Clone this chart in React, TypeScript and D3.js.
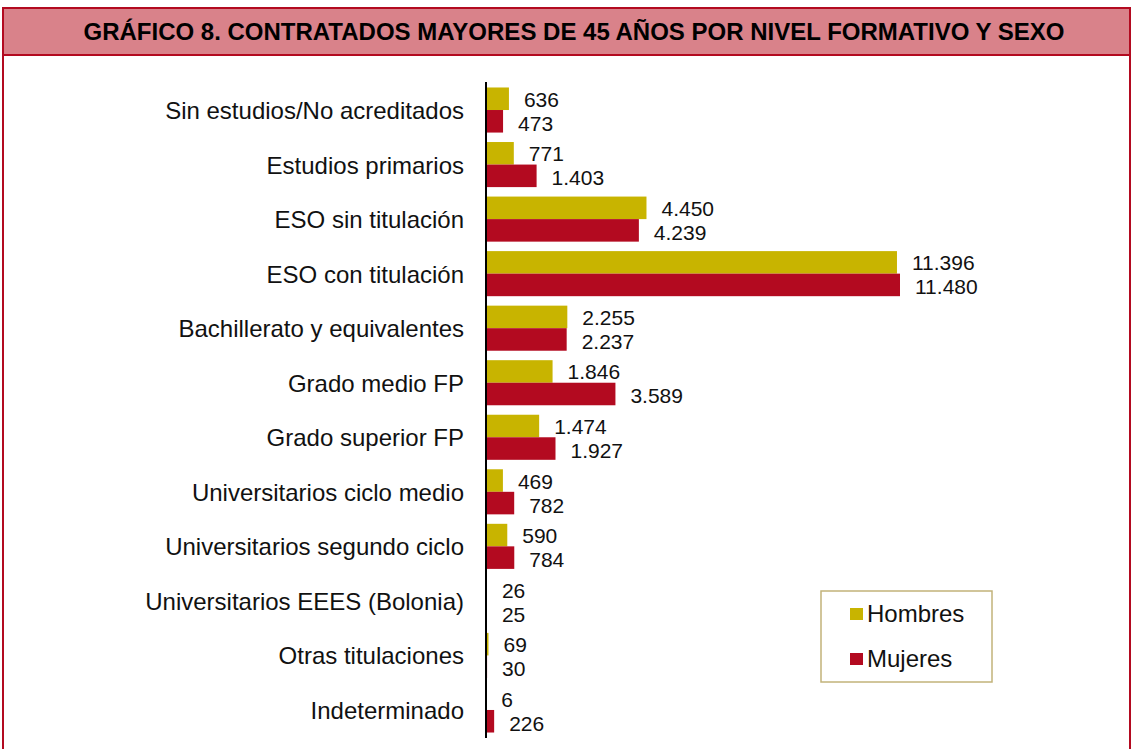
import React, { useEffect, useRef } from 'react'
import * as d3 from 'd3'

const categories = [
  'Sin estudios/No acreditados',
  'Estudios primarios',
  'ESO sin titulación',
  'ESO con titulación',
  'Bachillerato y equivalentes',
  'Grado medio FP',
  'Grado superior FP',
  'Universitarios ciclo medio',
  'Universitarios segundo ciclo',
  'Universitarios EEES (Bolonia)',
  'Otras titulaciones',
  'Indeterminado',
]
const hombres = [636, 771, 4450, 11396, 2255, 1846, 1474, 469, 590, 26, 69, 6]
const mujeres = [473, 1403, 4239, 11480, 2237, 3589, 1927, 782, 784, 25, 30, 226]
const seriesNames = ['Hombres', 'Mujeres']
const seriesColors = ['#c8b400', '#b30a20']

export default function App() {
  const ref = useRef<SVGSVGElement | null>(null)
  const width = 1133
  const height = 749

  function draw() {
    const svg = d3.select(ref.current)
    svg.selectAll('*').remove()
    const font = '"Liberation Sans", Arial, sans-serif'

    // frame + title bar
    svg.append('rect')
      .attr('x', 3).attr('y', 8).attr('width', 1127).attr('height', 760)
      .attr('fill', 'none').attr('stroke', '#b30a20').attr('stroke-width', 2)
    svg.append('rect')
      .attr('x', 3).attr('y', 8).attr('width', 1127).attr('height', 47)
      .attr('fill', '#d9828a').attr('stroke', '#b30a20').attr('stroke-width', 2)
    svg.append('text')
      .attr('x', 574).attr('y', 40)
      .attr('text-anchor', 'middle')
      .style('font-family', font).style('font-weight', 'bold').style('font-size', '24px')
      .text('GRÁFICO 8. CONTRATADOS MAYORES DE 45 AÑOS POR NIVEL FORMATIVO Y SEXO')

    const x0 = 486
    const x = d3.scaleLinear().domain([0, 11480]).range([x0, 900])
    const y = d3.scaleBand<string>().domain(categories).range([82.75, 737.25]).paddingInner(0).paddingOuter(0)
    const inner = d3.scaleBand<string>().domain(seriesNames).range([0, y.bandwidth()]).paddingInner(0).paddingOuter(0.21)

    const data = categories.map((c, i) => ({ c, vals: [hombres[i], mujeres[i]] }))

    const g = svg.append('g')
    const rows = g.selectAll('g.row').data(data).enter().append('g')
      .attr('transform', d => 'translate(0,' + y(d.c) + ')')

    const labelShift = [8, 9.5]
    seriesNames.forEach((s, si) => {
      rows.append('rect')
        .attr('x', x0)
        .attr('y', inner(s)!)
        .attr('width', d => x(d.vals[si]) - x0)
        .attr('height', inner.bandwidth())
        .attr('fill', seriesColors[si])
      rows.append('text')
        .attr('x', d => x(d.vals[si]) + 15)
        .attr('y', inner(s)! + inner.bandwidth() / 2 + labelShift[si])
        .style('font-family', font).style('font-size', '21px')
        .attr('fill', '#111')
        .text(d => d3.format(',')(d.vals[si]).replace(/,/g, '.'))
    })

    rows.append('text')
      .attr('x', 464)
      .attr('y', y.bandwidth() / 2 + 9)
      .attr('text-anchor', 'end')
      .style('font-family', font).style('font-size', '24px')
      .attr('fill', '#111')
      .text(d => d.c)

    // axis line
    svg.append('line')
      .attr('x1', x0).attr('x2', x0).attr('y1', 82).attr('y2', 738)
      .attr('stroke', '#000').attr('stroke-width', 2)

    // legend
    const lg = svg.append('g')
    lg.append('rect')
      .attr('x', 821).attr('y', 591).attr('width', 171).attr('height', 91)
      .attr('fill', '#fff').attr('stroke', '#c2b37a').attr('stroke-width', 1.5)
    seriesNames.forEach((s, i) => {
      const ly = 622 + i * 45
      lg.append('rect')
        .attr('x', 850).attr('y', ly - 14).attr('width', 13).attr('height', 12)
        .attr('fill', seriesColors[i])
      lg.append('text')
        .attr('x', 867).attr('y', ly)
        .style('font-family', font).style('font-size', '24px')
        .attr('fill', '#111')
        .text(s)
    })
  }

  useEffect(() => {
    draw()
  }, [])

  return (
    <svg ref={ref} width={width} height={height}
      style={{ position: 'absolute', left: 0, top: 0, background: '#fff' }} />
  )
}
